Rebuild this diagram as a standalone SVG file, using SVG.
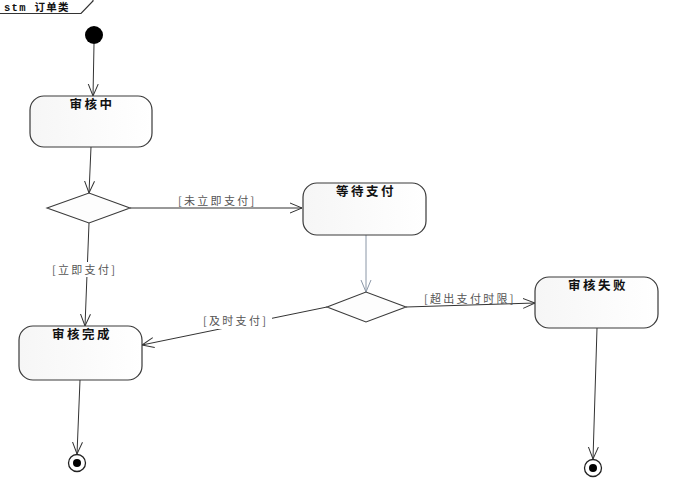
<svg xmlns="http://www.w3.org/2000/svg" width="674" height="486" viewBox="0 0 674 486">
<style>
.state{fill:url(#g);stroke:#3a3a3a;stroke-width:1.2}
.dec{fill:#fdfdfd;stroke:#3a3a3a;stroke-width:1.1}
.title{font-family:"Noto Sans CJK SC","Liberation Sans",sans-serif;font-size:12.5px;font-weight:bold;fill:#111;text-anchor:middle;letter-spacing:2.5px}
.lbl{font-family:"Noto Sans CJK SC","Liberation Sans",sans-serif;font-size:11px;fill:#555;letter-spacing:2.3px}
.bg{fill:#fff}
.c{fill:none;stroke:#333;stroke-width:1}
.cg{fill:none;stroke:#8a96a6;stroke-width:1}
</style>
<defs>
<linearGradient id="g" x1="0" y1="0" x2="1" y2="0">
<stop offset="0" stop-color="#f6f6f6"/><stop offset="1" stop-color="#ffffff"/>
</linearGradient>
<marker id="a" markerWidth="14" markerHeight="12" refX="12" refY="6" orient="auto" markerUnits="userSpaceOnUse">
<path d="M0,1 L12,6 L0,11" fill="none" stroke="#333" stroke-width="1"/>
</marker>
<marker id="ag" markerWidth="14" markerHeight="12" refX="12" refY="6" orient="auto" markerUnits="userSpaceOnUse">
<path d="M0,1 L12,6 L0,11" fill="none" stroke="#8a96a6" stroke-width="1"/>
</marker>
</defs>
<rect width="674" height="486" fill="#fff"/>
<g id="frame">
<path d="M0,13.5 L81,13.5 L93,1 L93,0" fill="none" stroke="#333" stroke-width="1.2"/>
<text x="4" y="11" font-family="'Liberation Mono','Noto Sans CJK SC',monospace" font-size="10.5" font-weight="bold" fill="#111" letter-spacing="1.3">stm 订单类</text>
</g>
<g id="connectors">
<line class="c" x1="94" y1="44" x2="93" y2="96" marker-end="url(#a)"/>
<line class="c" x1="91" y1="147" x2="89" y2="193" marker-end="url(#a)"/>
<line class="c" x1="130" y1="208" x2="302" y2="208" marker-end="url(#a)"/>
<text class="lbl" x="178" y="205">[未立即支付]</text>
<line class="c" x1="89" y1="223" x2="85" y2="326" marker-end="url(#a)"/>
<rect class="bg" x="50" y="262" width="70" height="15"/>
<text class="lbl" x="52" y="274">[立即支付]</text>
<line class="cg" x1="366" y1="235" x2="366" y2="292" marker-end="url(#ag)"/>
<line class="c" x1="406" y1="307" x2="535" y2="303" marker-end="url(#a)"/>
<text class="lbl" x="424" y="303">[超出支付时限]</text>
<line class="c" x1="327" y1="307" x2="142" y2="345" marker-end="url(#a)"/>
<rect class="bg" x="201" y="314" width="71" height="15"/>
<text class="lbl" x="203" y="325">[及时支付]</text>
<line class="c" x1="80" y1="380" x2="77" y2="454" marker-end="url(#a)"/>
<line class="c" x1="597" y1="328" x2="593" y2="459" marker-end="url(#a)"/>
</g>
<g id="initial"><circle cx="94" cy="35" r="9" fill="#000"/></g>
<g id="s1"><rect class="state" x="30" y="96" width="122" height="51" rx="14"/><text class="title" x="92" y="109">审核中</text></g>
<g id="d1"><polygon class="dec" points="47,208 89,193 130,208 89,223"/></g>
<g id="s2"><rect class="state" x="303" y="183" width="123" height="52" rx="14"/><text class="title" x="366" y="196">等待支付</text></g>
<g id="d2"><polygon class="dec" points="327,307 366,292 406,307 366,322"/></g>
<g id="s3"><rect class="state" x="535" y="277" width="123" height="51" rx="14"/><text class="title" x="598" y="290">审核失败</text></g>
<g id="s4"><rect class="state" x="19" y="326" width="123" height="54" rx="14"/><text class="title" x="82" y="339">审核完成</text></g>
<g id="f1"><circle cx="77" cy="463" r="8.5" fill="#fff" stroke="#222" stroke-width="1.3"/><circle cx="77" cy="463" r="4" fill="#000"/></g>
<g id="f2"><circle cx="593" cy="468" r="8.5" fill="#fff" stroke="#222" stroke-width="1.3"/><circle cx="593" cy="468" r="4" fill="#000"/></g>
</svg>
